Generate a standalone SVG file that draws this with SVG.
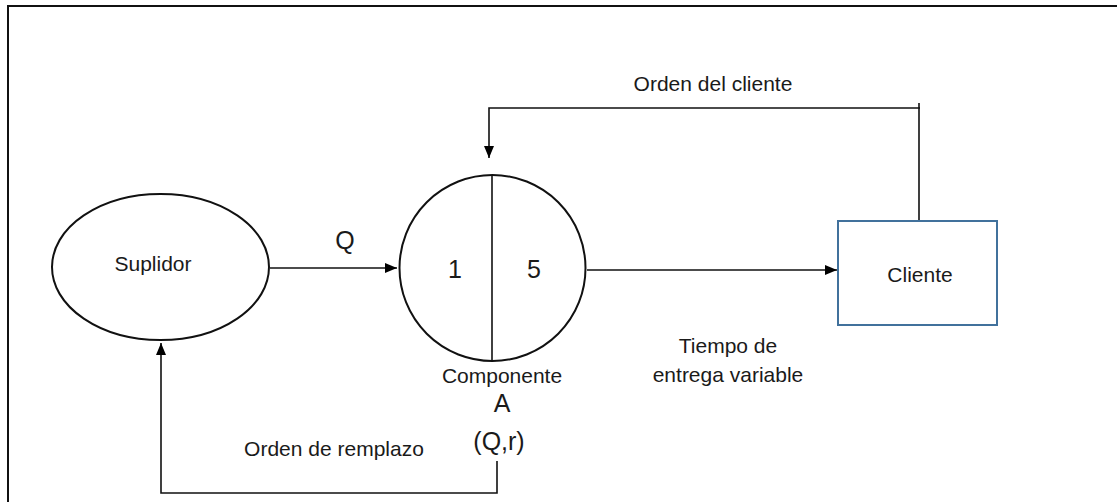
<svg xmlns="http://www.w3.org/2000/svg" width="1117" height="502" viewBox="0 0 1117 502">
<style>
text{font-family:"Liberation Sans",Arial,sans-serif;fill:#1a1a1a;text-anchor:middle}
.t{font-size:21px}
.b{font-size:25px}
.ln{fill:none;stroke:#111;stroke-width:1.6}
.sh{fill:#fff;stroke:#111;stroke-width:2}
</style>
<defs>
<marker id="ah" viewBox="0 0 12 10" refX="12" refY="5" markerWidth="12" markerHeight="10" markerUnits="userSpaceOnUse" orient="auto">
<path d="M0,0 L12,5 L0,10 z" fill="#000"/>
</marker>
</defs>
<rect width="1117" height="502" fill="#fff"/>
<path d="M8,502 V6 H1117" fill="none" stroke="#111" stroke-width="2"/>
<g id="connectors">
<path class="ln" d="M270,268 H397" marker-end="url(#ah)"/>
<path class="ln" d="M587,270 H837" marker-end="url(#ah)"/>
<path class="ln" d="M919,221 V103 M920,108 H489 V158" marker-end="url(#ah)"/>
<path class="ln" d="M497,461 V493 H161 V343" marker-end="url(#ah)"/>
</g>
<g id="suplidor">
<ellipse class="sh" cx="160.5" cy="267" rx="108.5" ry="73"/>
<text class="t" x="153" y="271">Suplidor</text>
</g>
<g id="componente">
<circle class="sh" cx="492.5" cy="268" r="93"/>
<line class="ln" x1="492" y1="175" x2="492" y2="361"/>
<text class="b" x="455" y="278">1</text>
<text class="b" x="534" y="278">5</text>
<text class="t" x="502" y="383">Componente</text>
<text class="b" x="502" y="412">A</text>
<text class="b" x="499" y="450">(Q,r)</text>
</g>
<g id="cliente">
<rect x="838" y="221" width="159" height="104" fill="#fff" stroke="#41719c" stroke-width="2"/>
<text class="t" x="920" y="282">Cliente</text>
</g>
<g id="labels">
<text class="b" x="345" y="249">Q</text>
<text class="t" x="713" y="91">Orden del cliente</text>
<text class="t" x="728" y="353">Tiempo de</text>
<text class="t" x="728" y="382">entrega variable</text>
<text class="t" x="334" y="456">Orden de remplazo</text>
</g>
</svg>
